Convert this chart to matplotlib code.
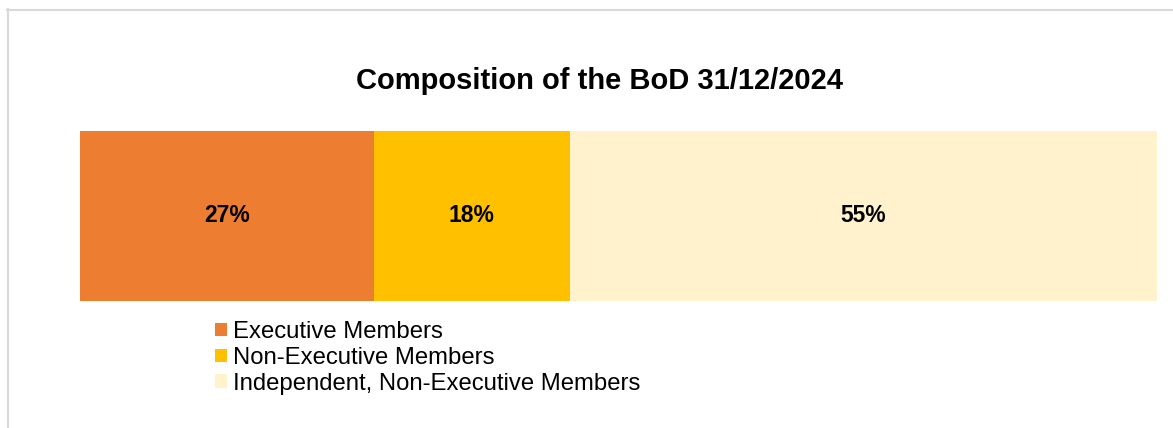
import matplotlib
matplotlib.use("Agg")
import matplotlib.pyplot as plt
from matplotlib.patches import Patch
from matplotlib.lines import Line2D

plt.rcParams['font.family'] = ['Liberation Sans', 'DejaVu Sans']

title = "Composition of the BoD 31/12/2024"
categories = ["Executive Members", "Non-Executive Members", "Independent, Non-Executive Members"]
members = [3, 2, 6]
colors = ["#ED7D31", "#FFC000", "#FFF2CC"]

W, H = 1173, 428
fig = plt.figure(figsize=(W / 100, H / 100), dpi=100)

# light frame lines (top and left)
fig.add_artist(Line2D([7.5 / W, 7.5 / W], [0, 1 - 9 / H], transform=fig.transFigure,
                      color="#d9d9d9", lw=1.5))
fig.add_artist(Line2D([7 / W, 1], [1 - 9.5 / H, 1 - 9.5 / H], transform=fig.transFigure,
                      color="#d9d9d9", lw=1.5))

ax = fig.add_axes([80 / W, 1 - 301 / H, (1157 - 80) / W, (301 - 131) / H])
total = sum(members)
left = 0
for cat, v, c in zip(categories, members, colors):
    ax.barh(0, v, left=left, height=1.0, color=c, edgecolor="none", label=cat)
    ax.text(left + v / 2, 0, f"{round(100 * v / total)}%", ha="center", va="center",
            fontsize=16.5, fontweight="bold", color="black")
    left += v
ax.set_xlim(0, total)
ax.set_ylim(-0.5, 0.5)
ax.axis("off")

fig.text(600 / W, 1 - 81 / H, title, ha="center", va="center", fontsize=21, fontweight="bold")

handles = [Patch(facecolor=c, edgecolor="none") for c in colors]
leg = fig.legend(handles, categories, loc="upper left",
                 bbox_to_anchor=(215 / W, 1 - 321 / H), frameon=False,
                 fontsize=17.2, handlelength=0.5, handleheight=0.5, handletextpad=0.25,
                 labelspacing=0.16, borderaxespad=0, borderpad=0)

fig.savefig("out.png", dpi=100, facecolor="white")
